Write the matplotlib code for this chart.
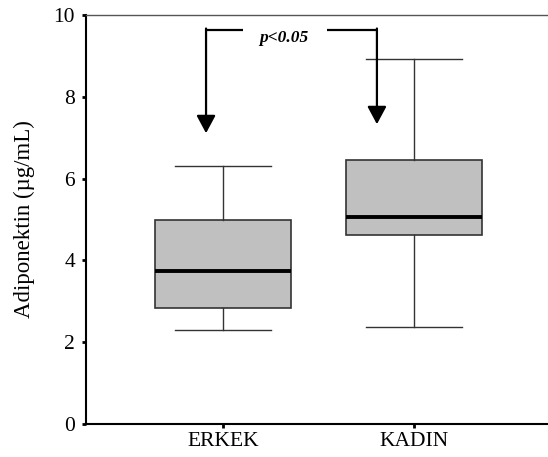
import matplotlib
matplotlib.use('Agg')
import matplotlib.pyplot as plt

plt.rcParams['font.family'] = ['Liberation Serif', 'DejaVu Serif']

groups = ["ERKEK", "KADIN"]
# whislo, q1, med, q3, whishi
whislo = [2.30, 2.36]
q1 = [2.83, 4.61]
med = [3.75, 5.07]
q3 = [4.98, 6.45]
whishi = [6.32, 8.92]
p_text = "p<0.05"

stats = []
for i, g in enumerate(groups):
    stats.append(dict(label=g, whislo=whislo[i], q1=q1[i], med=med[i],
                      q3=q3[i], whishi=whishi[i], fliers=[]))

fig = plt.figure(figsize=(5.48, 4.57), dpi=100)
ax = fig.add_axes([86 / 548, 1 - 424 / 457, 1 - 86 / 548, (424 - 15) / 457])

ax.bxp(stats, positions=[1, 2], widths=0.71, capwidths=0.5, patch_artist=True,
       boxprops=dict(facecolor="#c0c0c0", edgecolor="#333333", linewidth=1.2),
       medianprops=dict(color="black", linewidth=2.8),
       whiskerprops=dict(color="#333333", linewidth=1.0),
       capprops=dict(color="#333333", linewidth=1.0))

ax.set_xlim(0.283, 2.70)
ax.set_ylim(0, 10)
ax.set_yticks([0, 2, 4, 6, 8, 10])
ax.set_xticks([1, 2])
ax.set_xticklabels(groups)
ax.tick_params(axis='both', direction='out', length=3, width=2, labelsize=15.5, pad=5)
ax.tick_params(axis='x', pad=3)
ax.set_ylabel("Adiponektin (µg/mL)", fontsize=16.5, labelpad=13)

ax.spines['right'].set_visible(False)
ax.spines['top'].set_color("#555555")
ax.spines['top'].set_linewidth(1.0)
ax.spines['left'].set_linewidth(1.5)
ax.spines['bottom'].set_linewidth(1.5)

# significance bracket with arrows
yb = 9.63
ax.plot([0.911, 1.103], [yb, yb], color="black", lw=1.6, solid_capstyle='butt')
ax.plot([1.545, 1.805], [yb, yb], color="black", lw=1.6, solid_capstyle='butt')
arrow = dict(arrowstyle='-|>,head_length=1.08,head_width=0.58', lw=1.6,
             color='black', shrinkA=0, shrinkB=0)
ax.annotate("", xy=(0.911, 7.11), xytext=(0.911, yb + 0.04), arrowprops=arrow)
ax.annotate("", xy=(1.805, 7.33), xytext=(1.805, yb + 0.04), arrowprops=arrow)
ax.text(1.32, 9.44, p_text, ha='center', va='center', fontsize=12.5,
        fontweight='bold', fontstyle='italic')

fig.savefig("out.png", dpi=100)
